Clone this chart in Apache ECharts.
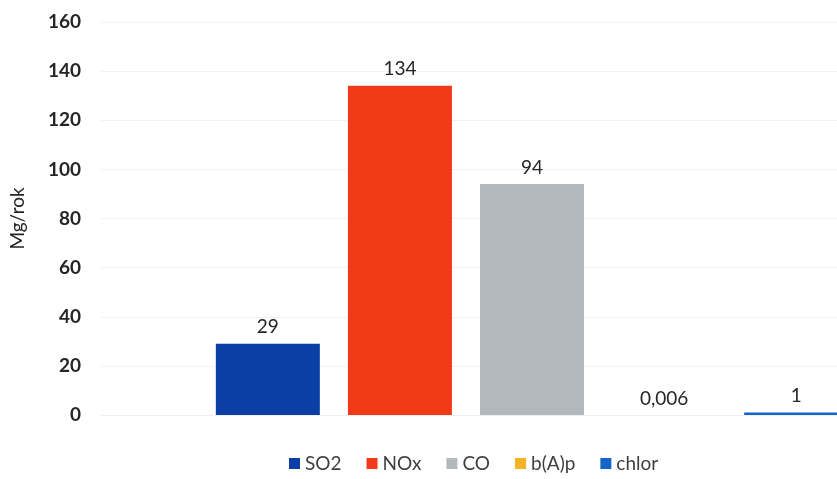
<!DOCTYPE html>
<html>
<head>
<meta charset="utf-8">
<script src="https://cdn.jsdelivr.net/npm/echarts@6/dist/echarts.min.js"></script>
<style>
  html, body { margin: 0; padding: 0; background: #fff; }
  #chart { width: 837px; height: 479px; }
</style>
</head>
<body>
<div id="chart"></div>
<script>
const seriesNames = ['SO2', 'NOx', 'CO', 'b(A)p', 'chlor']
const seriesValues = [29, 134, 94, 0.006, 1]
const valueLabels = ['29', '134', '94', '0,006', '1']
const seriesColors = ['#0b3fa6', '#f23a18', '#b3b8bc', '#f5b324', '#1565c8']
const yTicks = [0, 20, 40, 60, 80, 100, 120, 140, 160]

const chart = echarts.init(document.getElementById('chart'))

const yMin = yTicks[0]
const yMax = yTicks[yTicks.length - 1]
const yStep = yTicks[1] - yTicks[0]

// bars sit in a grid centred to the right, the plot area is cut off by the image edge
const series = seriesNames.map((name, i) => ({
  name,
  type: 'bar',
  xAxisIndex: 1,
  yAxisIndex: 1,
  clip: false,
  data: [seriesValues[i]],
  barWidth: 104,
  barGap: '27%',
  itemStyle: { color: seriesColors[i] },
  label: {
    show: true,
    position: 'top',
    distance: 7,
    formatter: () => valueLabels[i],
    color: '#262626',
    fontSize: 19,
    fontFamily: 'Lato'
  }
}))

chart.setOption({
  animation: false,
  textStyle: { fontFamily: 'Lato' },
  grid: [
    { left: 100, top: 22, right: 0, height: 393 },
    { left: 227, top: 22, right: 0, height: 393 }
  ],
  legend: {
    data: seriesNames,
    left: 289,
    top: 454,
    padding: 0,
    itemWidth: 11,
    itemHeight: 11,
    itemGap: 25,
    icon: 'rect',
    textStyle: { fontSize: 19, color: '#404040', fontFamily: 'Lato' }
  },
  xAxis: [
    {
      gridIndex: 0,
      type: 'category',
      data: [''],
      axisLine: { show: true, lineStyle: { color: '#f0f0f0' } },
      axisTick: { show: false },
      axisLabel: { show: false }
    },
    {
      gridIndex: 1,
      type: 'category',
      data: [''],
      axisLine: { show: false },
      axisTick: { show: false },
      axisLabel: { show: false }
    }
  ],
  yAxis: [
    {
      gridIndex: 0,
      type: 'value',
      min: yMin,
      max: yMax,
      interval: yStep,
      name: 'Mg/rok',
      nameLocation: 'middle',
      nameGap: 74,
      nameRotate: 90,
      nameTextStyle: { fontSize: 19, color: '#262626', fontFamily: 'Lato' },
      axisLine: { show: false },
      axisTick: { show: false },
      axisLabel: {
        margin: 20,
        fontSize: 19,
        fontWeight: 'bold',
        color: '#262626',
        fontFamily: 'Lato'
      },
      splitLine: { lineStyle: { color: '#f2f2f2' } }
    },
    {
      gridIndex: 1,
      type: 'value',
      min: yMin,
      max: yMax,
      interval: yStep,
      axisLine: { show: false },
      axisTick: { show: false },
      axisLabel: { show: false },
      splitLine: { show: false }
    }
  ],
  series
})
</script>
</body>
</html>
